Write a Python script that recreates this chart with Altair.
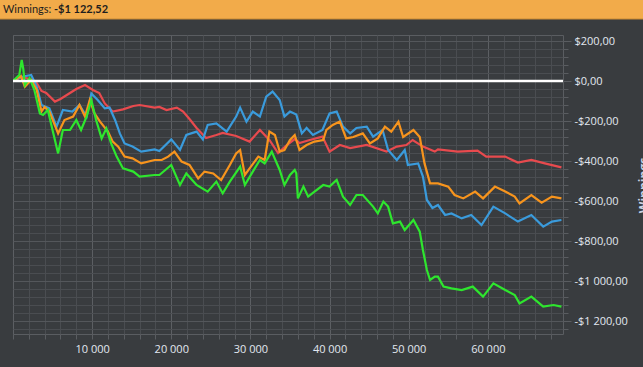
import altair as alt
import pandas as pd

header_label = ["Winnings:"]
header_value = ["-$1 122,52"]
axis_title = "Winnings"

series_names = ["Red", "Blue", "Orange", "Green"]
series_colors = ["#e84a4e", "#3a9bdc", "#f7941d", "#2ee62e"]

red_x = [0, 1100, 2100, 3000, 3600, 4200, 5300, 6000, 7400, 8000, 9100, 10100, 10900, 11600, 12600,
         13900, 15200, 16000, 17900, 18500, 19400, 20700, 21500, 22300, 23200, 24400, 25700, 26500,
         28200, 29900, 31200, 32400, 33500, 34600, 35600, 36200, 37500, 39100, 40000, 41300, 42600,
         44700, 47200, 48500, 49700, 50500, 51800, 53300, 53700, 56200, 58700, 59800, 62200, 63800,
         65500, 67200, 69300]
red_y = [0, 20, 10, -10, -50, -60, -103, -90, -55, -40, -20, -45, -60, -112, -153,
         -142, -125, -120, -133, -130, -145, -133, -153, -190, -235, -285, -270, -260,
         -275, -303, -245, -295, -360, -320, -290, -310, -295, -278, -353, -320, -335,
         -320, -353, -328, -320, -295, -328, -353, -342, -353, -348, -378, -378, -408,
         -395, -412, -432]

blue_x = [0, 1000, 2300, 3000, 3600, 4600, 5500, 6300, 7500, 8400, 9300, 9900, 10700, 11600, 12200,
          12900, 13500, 14100, 15100, 16200, 17900, 18500, 20000, 21100, 21900, 23200, 24000, 24600,
          25700, 27000, 28200, 28700, 29500, 30300, 31200, 32000, 32800, 33700, 34300, 35000, 35800,
          36500, 37100, 37900, 39100, 40000, 40900, 41700, 42600, 43400, 44700, 45500, 46700, 47400,
          48500, 49500, 49900, 51200, 51800, 52300, 53000, 53700, 54600, 55400, 56700, 57900, 59200,
          60700, 62200, 63800, 65500, 67000, 68100, 69300]
blue_y = [0, 20, 30, -28, -120, -137, -228, -145, -153, -120, -178, -62, -95, -137, -133,
          -195, -262, -312, -328, -353, -342, -350, -292, -345, -270, -253, -292, -220,
          -212, -253, -178, -133, -203, -153, -178, -78, -53, -95, -178, -153, -168,
          -262, -235, -270, -245, -162, -153, -228, -262, -235, -228, -278, -245, -345,
          -395, -345, -420, -412, -478, -595, -635, -620, -670, -662, -687, -670, -720,
          -628, -662, -703, -670, -728, -703, -695]

orange_x = [0, 1000, 1500, 2300, 3000, 3600, 4000, 4600, 5700, 6500, 7600, 8400, 9100, 9700, 10300,
            11000, 12000, 12600, 13300, 14100, 15100, 16200, 17900, 18800, 19600, 20400, 21300, 22300,
            23400, 24200, 25300, 26300, 27400, 28200, 28700, 29300, 29900, 31000, 31800, 32400, 33100,
            33700, 34300, 35000, 35600, 36200, 37100, 38100, 39200, 39600, 40400, 41300, 42100, 43000,
            44200, 45100, 46100, 47000, 47800, 48700, 49300, 50600, 51400, 52000, 52700, 53700, 55000,
            55800, 56900, 58400, 59400, 60900, 62200, 63400, 64000, 65500, 66800, 68100, 69300]
orange_y = [0, 25, -28, 5, -45, -153, -130, -153, -262, -195, -178, -120, -178, -95, -162,
            -203, -253, -303, -328, -378, -387, -412, -395, -395, -378, -353, -403, -420,
            -487, -453, -462, -495, -420, -362, -345, -470, -437, -378, -395, -253, -270,
            -353, -345, -295, -270, -345, -320, -303, -295, -245, -220, -203, -287, -280,
            -262, -312, -287, -228, -253, -203, -280, -245, -280, -412, -512, -512, -528,
            -570, -587, -553, -587, -528, -553, -578, -612, -570, -608, -578, -587]

green_x = [0, 800, 1100, 1300, 1500, 2100, 2700, 3400, 3800, 4400, 5100, 5700, 6300, 7200, 8000,
           8600, 9300, 9900, 10500, 11200, 11800, 12400, 13100, 13900, 15200, 16000, 17900, 18500,
           20000, 21100, 21900, 23200, 24600, 25700, 26500, 27400, 28700, 29300, 30300, 31200, 31800,
           32700, 33700, 34300, 35000, 35600, 35800, 36000, 36700, 37300, 38100, 39200, 40000, 40900,
           41700, 42600, 43400, 44200, 45500, 46100, 46800, 47400, 48000, 48900, 49500, 50600, 51400,
           51800, 52300, 52700, 53300, 53700, 54400, 55400, 56700, 58100, 59400, 60700, 62200, 63400,
           64000, 65500, 67000, 68300, 69300]
green_y = [0, 30, 105, 60, -20, 15, -45, -162, -170, -145, -262, -362, -245, -245, -195,
           -245, -178, -95, -195, -287, -237, -312, -378, -437, -453, -478, -470, -470,
           -420, -520, -462, -520, -553, -503, -562, -503, -428, -520, -453, -395, -412,
           -353, -445, -520, -470, -445, -462, -587, -528, -578, -553, -520, -528, -495,
           -578, -620, -570, -570, -628, -662, -603, -628, -712, -703, -745, -695, -753,
           -845, -945, -995, -978, -978, -1028, -1037, -1045, -1028, -1078, -1012, -1045, -1070,
           -1112, -1078, -1128, -1120, -1128]

xs = [red_x, blue_x, orange_x, green_x]
ys = [red_y, blue_y, orange_y, green_y]

rows = []
for name, xv, yv in zip(series_names, xs, ys):
    for i, (a, b) in enumerate(zip(xv, yv)):
        rows.append({"series": name, "hands": a, "winnings": b, "i": i})
df = pd.DataFrame(rows)

FONT = "Open Sans"
x_vals = list(range(0, 69501, 2000))
y_vals = list(range(-1240, 201, 40))

x_axis = alt.Axis(
    values=x_vals,
    tickCount=200,
    labelExpr="datum.value > 0 && datum.value % 10000 === 0 ? replace(format(datum.value, ','), ',', ' ') : ''",
    grid=True,
    gridColor={"condition": {"test": "datum.value % 10000 === 0", "value": "#5c5f63"}, "value": "#4a4d51"},
    gridWidth=1,
    domain=False,
    ticks=True,
    tickColor="#5a5d61",
    tickSize=5,
    labelPadding=4,
    labelColor="#e2e8f0",
    labelFont=FONT,
    labelFontSize=11,
    labelOverlap=False,
    labelFlush=False,
    title=None,
)

y_axis = alt.Axis(
    orient="right",
    values=y_vals,
    tickCount=200,
    labelExpr="datum.value % 200 === 0 ? ((datum.value < 0 ? '-' : '') + '$' + replace(replace(format(abs(datum.value), ',.2f'), ',', ' '), '.', ',')) : ''",
    grid=True,
    gridColor={"condition": {"test": "datum.value % 200 === 0", "value": "#54575b"}, "value": "#4a4d51"},
    gridWidth=1,
    domain=False,
    ticks=True,
    tickColor="#5a5d61",
    tickSize={"condition": {"test": "datum.value % 200 === 0", "value": 8}, "value": 5},
    labelPadding=3,
    labelColor="#e2e8f0",
    labelFont=FONT,
    labelFontSize=11,
    labelOverlap=False,
    labelFlush=False,
    title=axis_title,
    titleAngle=270,
    titleColor="#c8d2e4",
    titleFont=FONT,
    titleFontSize=12,
    titleFontWeight="bold",
    titleX=80,
    titleY=150,
    titleAlign="center",
    titleBaseline="middle",
)

lines = alt.Chart(df).mark_line(strokeWidth=2.2, clip=True).encode(
    x=alt.X("hands:Q", scale=alt.Scale(domain=[0, 69500], nice=False, zero=False), axis=x_axis),
    y=alt.Y("winnings:Q", scale=alt.Scale(domain=[-1265, 230], nice=False, zero=False), axis=y_axis),
    color=alt.Color("series:N", scale=alt.Scale(domain=series_names, range=series_colors), legend=None),
    order=alt.Order("i:Q"),
)

zero = alt.Chart(pd.DataFrame({"z": [0]})).mark_rule(color="#ffffff", strokeWidth=2.5).encode(
    y=alt.Y("z:Q")
)

hdr = pd.DataFrame({"label": header_label, "value": header_value})
header_rect = alt.Chart(hdr).mark_rect(color="#f2ab4a", clip=False).encode(
    x=alt.value(-13), x2=alt.value(630), y=alt.value(-35), y2=alt.value(-16)
)
header_line = alt.Chart(hdr).mark_rule(color="#c98a35", clip=False).encode(
    x=alt.value(-13), x2=alt.value(630), y=alt.value(-16)
)
header_text = alt.Chart(hdr).mark_text(
    align="left", baseline="middle", font="Lato", fontSize=11, color="#1e1e1e", clip=False
).encode(x=alt.value(-10), y=alt.value(-25.5), text="label:N")
header_val = alt.Chart(hdr).mark_text(
    align="left", baseline="middle", font="Lato", fontSize=11, fontWeight="bold", color="#1e1e1e", clip=False
).encode(x=alt.value(41), y=alt.value(-25.5), text="value:N")

chart = alt.layer(lines, zero, header_rect, header_line, header_text, header_val).properties(
    width=550,
    height=299,
    padding={"left": 13, "top": 35, "right": 80, "bottom": 33},
    autosize=alt.AutoSizeParams(type="none"),
    background="#393c3f",
).configure_view(
    stroke="#5a5d61", strokeWidth=1, fill="#393c3f"
)

chart.save("out.html", embed_options={"renderer": "svg", "actions": False})
